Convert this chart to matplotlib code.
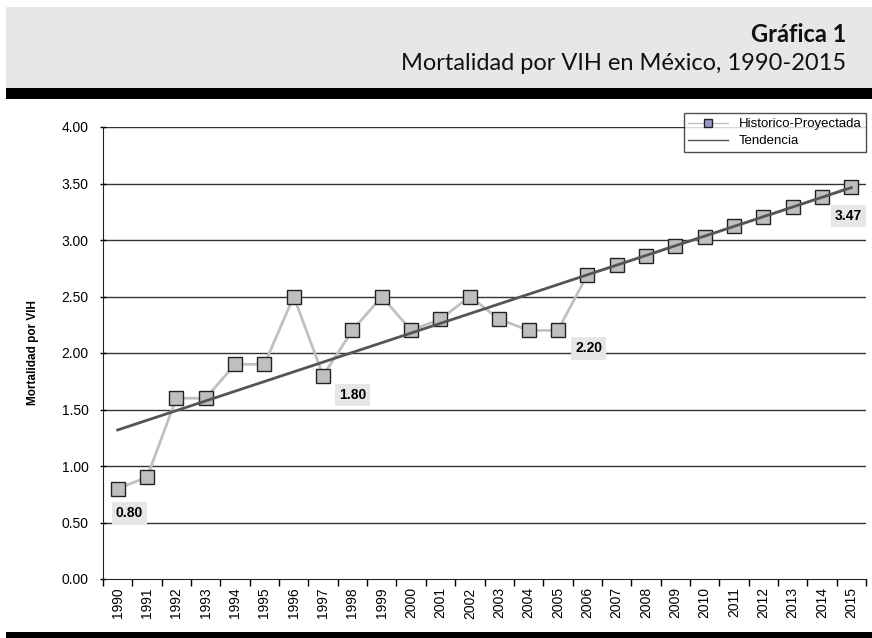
import numpy as np
import matplotlib.pyplot as plt
from matplotlib.patches import Rectangle

# Data
years = list(range(1990, 2016))
mortalidad = [0.80, 0.90, 1.60, 1.60, 1.90, 1.90, 2.50, 1.80, 2.20, 2.50,
              2.20, 2.30, 2.50, 2.30, 2.20, 2.20, 2.69, 2.78, 2.86, 2.95,
              3.03, 3.12, 3.20, 3.29, 3.38, 3.47]
# labelled points: year index and where its label sits
label_idx = [0, 7, 15, 25]
label_pos = [(0.4, 0.58), (8.0, 1.63), (16.05, 2.04), (24.9, 3.21)]

plt.rcParams['font.family'] = ['Liberation Sans', 'DejaVu Sans']

fig = plt.figure(figsize=(8.72, 6.38), dpi=100)
W, H = 872, 638

# header band
fig.patches.append(Rectangle((6 / W, 1 - 88 / H), 1, 81 / H, transform=fig.transFigure,
                             facecolor='#e6e7e8', edgecolor='none', zorder=0))
fig.patches.append(Rectangle((6 / W, 1 - 99 / H), 1, 11 / H, transform=fig.transFigure,
                             facecolor='black', edgecolor='none', zorder=0))
fig.patches.append(Rectangle((6 / W, 0), 1, 6 / H, transform=fig.transFigure,
                             facecolor='black', edgecolor='none', zorder=0))
fig.text(846 / W, 1 - 34 / H, 'Gráfica 1', ha='right', va='center',
         fontsize=17, fontweight='bold', family=['Lato', 'DejaVu Sans'], color='#111111')
fig.text(846 / W, 1 - 64 / H, 'Mortalidad por VIH en México, 1990-2015', ha='right',
         va='center', fontsize=17, family=['Lato', 'DejaVu Sans'], color='#111111')

ax = fig.add_axes([103 / W, 59 / H, 763 / W, 452 / H])
x = np.arange(len(years))

for v in np.arange(0.5, 4.01, 0.5):
    ax.axhline(v, color='#333333', lw=1.0, zorder=1)

ax.plot(x, mortalidad, color='#c0c0c0', lw=2, marker='s', markersize=10.5,
        markerfacecolor='#bfbfbf', markeredgecolor='#222222', markeredgewidth=1,
        zorder=3, label='Historico-Proyectada')

coef = np.polyfit(x, mortalidad, 1)
ax.plot(x, np.polyval(coef, x), color='#555555', lw=2, zorder=4, label='Tendencia')

for i, (lx, ly) in zip(label_idx, label_pos):
    ax.text(lx, ly, f'{mortalidad[i]:.2f}', ha='center', va='center', fontsize=10,
            fontweight='bold', zorder=5,
            bbox=dict(boxstyle='square,pad=0.3', facecolor='#e6e6e6', edgecolor='none'))

ax.set_xlim(-0.5, len(years) - 0.5)
ax.set_ylim(0, 4)
ax.set_yticks(np.arange(0, 4.01, 0.5))
ax.set_yticklabels([f'{v:.2f}' for v in np.arange(0, 4.01, 0.5)], fontsize=10)
ax.set_xticks(x)
ax.set_xticklabels([str(y) for y in years], rotation=90, fontsize=10)
ax.set_xticks(np.arange(-0.5, len(years)), minor=True)
ax.tick_params(axis='x', which='major', length=0, pad=6)
ax.tick_params(axis='x', which='minor', length=5, direction='out', width=1)
ax.tick_params(axis='y', length=5, direction='inout', width=1, pad=8)

for s in ['top', 'right']:
    ax.spines[s].set_visible(False)
ax.spines['left'].set_color('#222222')
ax.spines['bottom'].set_color('#222222')

ax.set_ylabel('Mortalidad por VIH', fontsize=8.5, fontweight='bold', labelpad=16)

leg = ax.legend(loc='upper right', bbox_to_anchor=(1.0, 1.03), fontsize=9.5,
                frameon=True, fancybox=False, edgecolor='#222222', handlelength=3,
                borderaxespad=0, markerscale=0.5, borderpad=0.35, labelspacing=0.35)
leg.get_frame().set_linewidth(1)
leg.legend_handles[0].set_markerfacecolor('#9999cc')
leg.legend_handles[0].set_linewidth(1)
leg.legend_handles[1].set_linewidth(1)

fig.savefig('out.png', dpi=100)
